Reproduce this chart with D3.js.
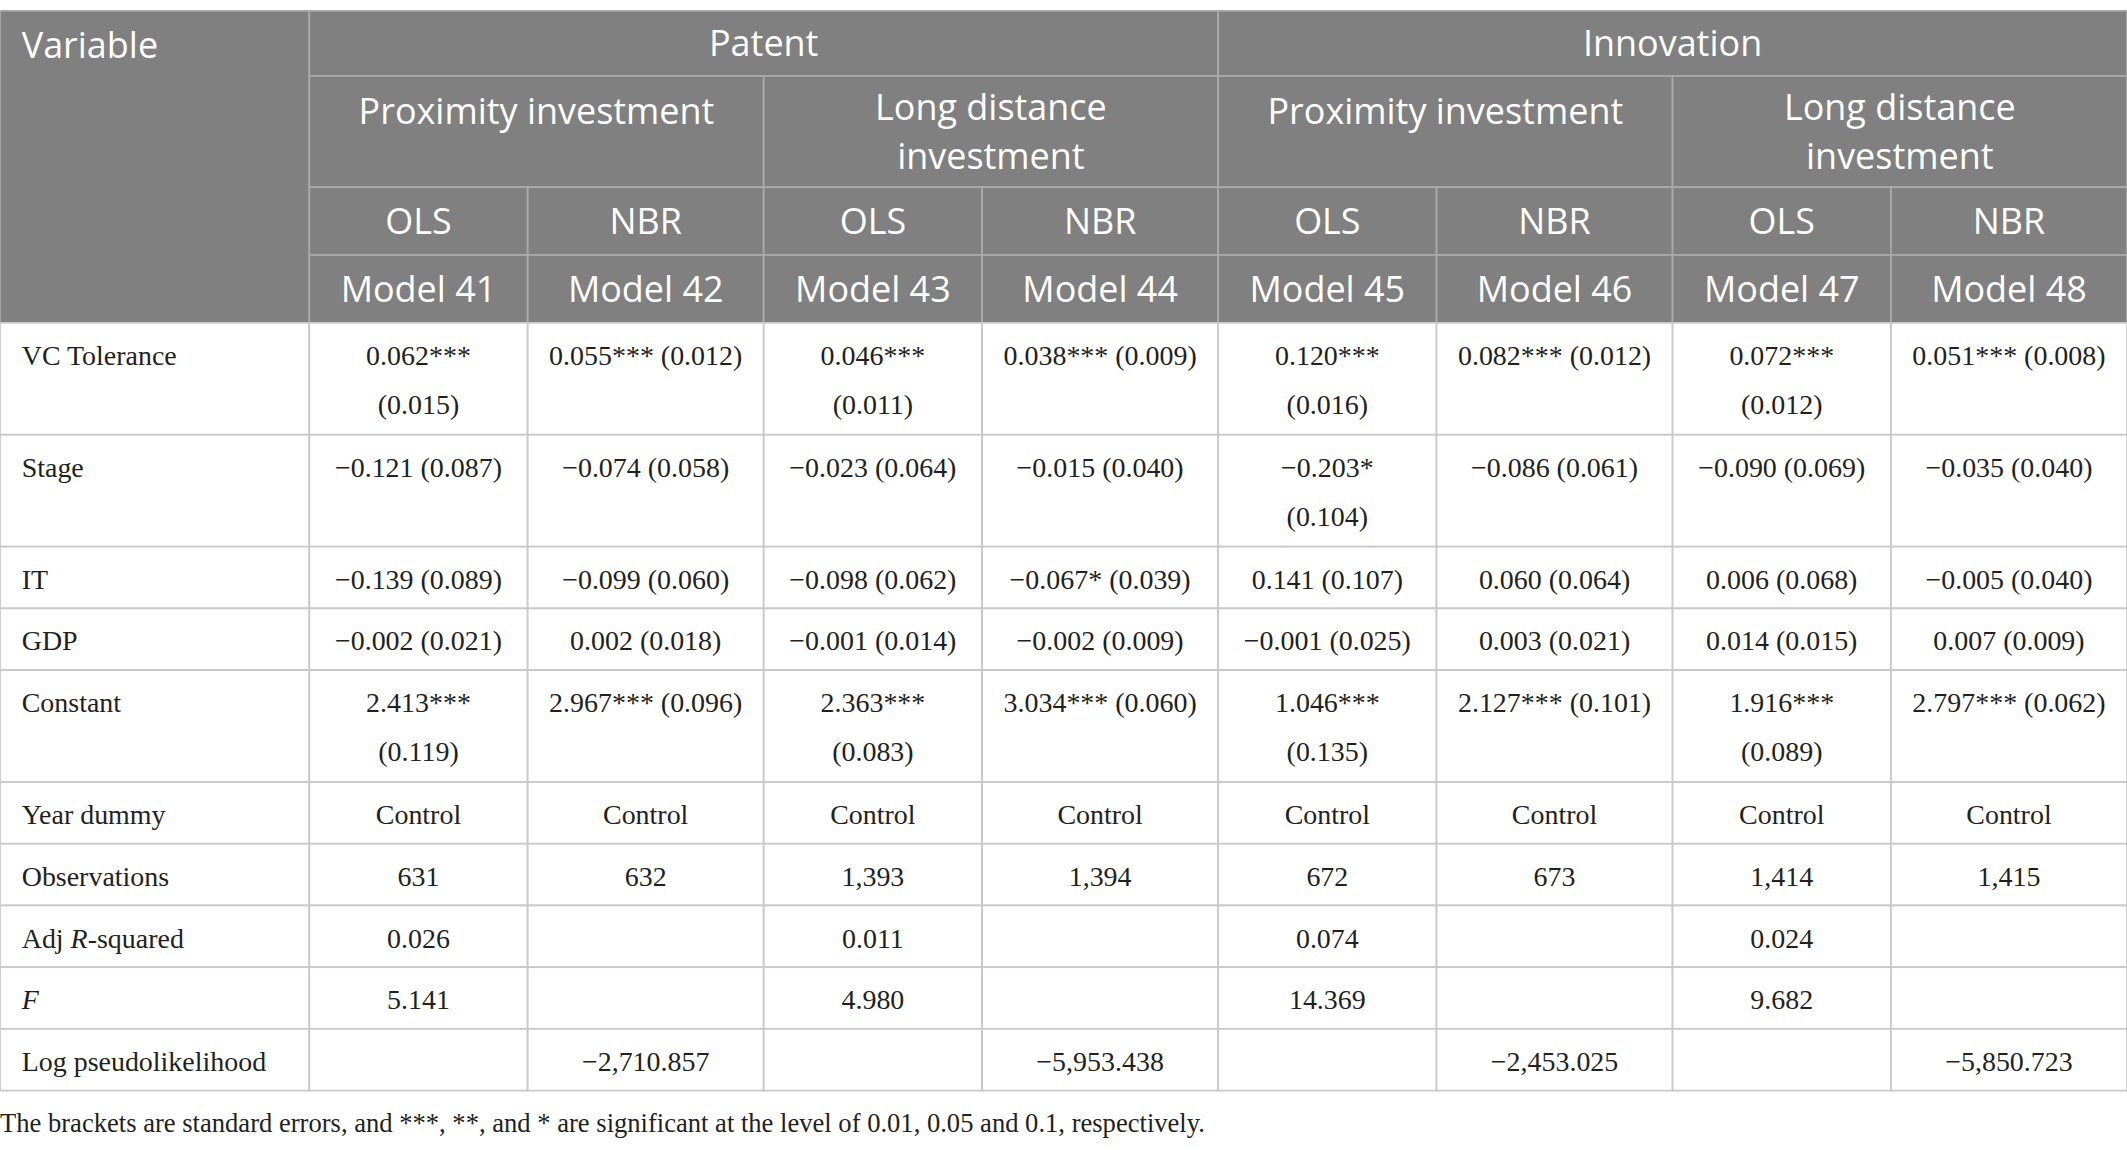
<!DOCTYPE html>
<html>
<head>
<meta charset="utf-8">
<script src="https://cdn.jsdelivr.net/npm/d3@7"></script>
<style>
  html, body { margin: 0; padding: 0; background: #ffffff; }
  svg { display: block; }
</style>
</head>
<body>
<svg id="chart"></svg>
<script>
// ---------------- DATA ----------------
const outcomes = ["Patent", "Innovation"];
const investTypes = ["Proximity investment", "Long distance investment"];
const methods = ["OLS", "NBR"];
const models = ["Model 41", "Model 42", "Model 43", "Model 44", "Model 45", "Model 46", "Model 47", "Model 48"];
const variables = ["VC Tolerance", "Stage", "IT", "GDP", "Constant", "Year dummy", "Observations", "Adj R-squared", "F", "Log pseudolikelihood"];

const vcTolerance = ["0.062*** (0.015)", "0.055*** (0.012)", "0.046*** (0.011)", "0.038*** (0.009)", "0.120*** (0.016)", "0.082*** (0.012)", "0.072*** (0.012)", "0.051*** (0.008)"];
const stage = ["−0.121 (0.087)", "−0.074 (0.058)", "−0.023 (0.064)", "−0.015 (0.040)", "−0.203* (0.104)", "−0.086 (0.061)", "−0.090 (0.069)", "−0.035 (0.040)"];
const itValues = ["−0.139 (0.089)", "−0.099 (0.060)", "−0.098 (0.062)", "−0.067* (0.039)", "0.141 (0.107)", "0.060 (0.064)", "0.006 (0.068)", "−0.005 (0.040)"];
const gdp = ["−0.002 (0.021)", "0.002 (0.018)", "−0.001 (0.014)", "−0.002 (0.009)", "−0.001 (0.025)", "0.003 (0.021)", "0.014 (0.015)", "0.007 (0.009)"];
const constant = ["2.413*** (0.119)", "2.967*** (0.096)", "2.363*** (0.083)", "3.034*** (0.060)", "1.046*** (0.135)", "2.127*** (0.101)", "1.916*** (0.089)", "2.797*** (0.062)"];
const yearDummy = ["Control", "Control", "Control", "Control", "Control", "Control", "Control", "Control"];
const observations = ["631", "632", "1,393", "1,394", "672", "673", "1,414", "1,415"];
const adjRSquared = ["0.026", "", "0.011", "", "0.074", "", "0.024", ""];
const fStat = ["5.141", "", "4.980", "", "14.369", "", "9.682", ""];
const logPseudolikelihood = ["", "−2,710.857", "", "−5,953.438", "", "−2,453.025", "", "−5,850.723"];

const footnote = "The brackets are standard errors, and ***, **, and * are significant at the level of 0.01, 0.05 and 0.1, respectively.";

// ---------------- LAYOUT ----------------
const W = 2127, H = 1150;
const VW = 1568, VH = VW * H / W;
const colWidths = [228, 161, 174, 161, 174, 161, 174, 161, 174];
const headerHeights = [48, 82, 50, 50];
const topY = 8;
const headerFill = "#7f807f";
const headerLine = "#a9aaa9";
const bodyLine = "#c9c9c9";
const textColor = "#231f20";
const headFont = "'Open Sans', 'Noto Sans', sans-serif";
const bodyFont = "'Liberation Serif', 'DejaVu Serif', serif";
const headSize = 26.5;
const bodySize = 20.6;
const footSize = 19.6;
const headLineGap = 36.5;

const bodyValues = [vcTolerance, stage, itValues, gdp, constant, yearDummy, observations, adjRSquared, fStat, logPseudolikelihood];

const svg = d3.select("#chart")
  .attr("width", W).attr("height", H)
  .attr("viewBox", `0 0 ${VW} ${VH}`);

// column edges via scale
const colEdges = Array.from(d3.cumsum([0].concat(colWidths)));
const xCol = d3.scaleOrdinal().domain(d3.range(colEdges.length)).range(colEdges);

// header row edges
const headEdgeArr = [topY].concat(Array.from(d3.cumsum(headerHeights), v => v + topY));
const yHead = d3.scaleOrdinal().domain(d3.range(headEdgeArr.length)).range(headEdgeArr);

// body cells: split lines (narrow OLS columns wrap starred coefficients)
function cellLines(text, colIdx) {
  const isOLS = methods[colIdx % 2] === "OLS";
  const i = text.indexOf(" (");
  if (isOLS && text.includes("*") && i > 0) return [text.slice(0, i), text.slice(i + 1)];
  return text === "" ? [] : [text];
}
const bodyRows = variables.map((v, r) => {
  const cells = bodyValues[r].map((t, c) => ({ lines: cellLines(t, c), col: c }));
  const nLines = Math.max(1, d3.max(cells, d => d.lines.length));
  return { label: v, cells, nLines };
});
const rowH = n => 45.5 + (n - 1) * 37;
const bodyEdges = [headEdgeArr[4]].concat(Array.from(d3.cumsum(bodyRows.map(d => rowH(d.nLines))), v => v + headEdgeArr[4]));
const yBody = d3.scaleOrdinal().domain(d3.range(bodyEdges.length)).range(bodyEdges);

// ---------- header cells ----------
const headCells = [];
headCells.push({ c0: 0, c1: 1, r0: 0, r1: 4, lines: ["Variable"], align: "left" });
outcomes.forEach((o, i) => headCells.push({ c0: 1 + 4 * i, c1: 5 + 4 * i, r0: 0, r1: 1, lines: [o] }));
outcomes.forEach((o, i) => investTypes.forEach((t, j) =>
  headCells.push({ c0: 1 + 4 * i + 2 * j, c1: 3 + 4 * i + 2 * j, r0: 1, r1: 2, text: t })));
models.forEach((m, k) => headCells.push({ c0: 1 + k, c1: 2 + k, r0: 2, r1: 3, lines: [methods[k % 2]] }));
models.forEach((m, k) => headCells.push({ c0: 1 + k, c1: 2 + k, r0: 3, r1: 4, lines: [m] }));

const gHead = svg.append("g");
gHead.selectAll("rect").data(headCells).join("rect")
  .attr("x", d => xCol(d.c0)).attr("y", d => yHead(d.r0))
  .attr("width", d => xCol(d.c1) - xCol(d.c0)).attr("height", d => yHead(d.r1) - yHead(d.r0))
  .attr("fill", headerFill).attr("stroke", headerLine).attr("stroke-width", 1.3);

// measuring helper for header wrapping
const measure = svg.append("text").attr("font-family", headFont).attr("font-size", headSize).attr("visibility", "hidden");
function wrapWords(text, avail) {
  const words = text.split(" ");
  const lines = [];
  let cur = "";
  words.forEach(w => {
    const test = cur ? cur + " " + w : w;
    measure.text(test);
    if (cur && measure.node().getComputedTextLength() > avail) { lines.push(cur); cur = w; }
    else cur = test;
  });
  if (cur) lines.push(cur);
  return lines;
}
headCells.forEach(d => {
  if (!d.lines) d.lines = wrapWords(d.text, xCol(d.c1) - xCol(d.c0) - 28);
});
measure.remove();

const headText = gHead.selectAll("text.h").data(headCells).join("text")
  .attr("class", "h")
  .attr("font-family", headFont).attr("font-size", headSize)
  .attr("fill", "#ffffff")
  .attr("text-anchor", d => d.align === "left" ? "start" : "middle");
headText.each(function (d) {
  const x = d.align === "left" ? xCol(d.c0) + 16 : (xCol(d.c0) + xCol(d.c1)) / 2;
  const multi = d.lines.length > 1;
  const y0 = d.r1 - d.r0 > 1 ? yHead(d.r0) + 25
    : d.r0 === 1 ? (multi ? (yHead(1) + yHead(2)) / 2 - headLineGap / 2 : yHead(d.r0) + 26)
    : (yHead(d.r0) + yHead(d.r1)) / 2;
  d3.select(this).selectAll("tspan").data(d.lines).join("tspan")
    .attr("x", x).attr("y", (l, i) => y0 + i * headLineGap).attr("dy", "0.36em").text(l => l);
});

// ---------- body ----------
const gBody = svg.append("g");
bodyRows.forEach((row, r) => {
  const y0 = yBody(r), y1 = yBody(r + 1);
  const cellsAll = [{ col: -1, lines: [row.label] }].concat(row.cells);
  const g = gBody.append("g");
  g.selectAll("rect").data(cellsAll).join("rect")
    .attr("x", d => xCol(d.col + 1)).attr("y", y0)
    .attr("width", d => xCol(d.col + 2) - xCol(d.col + 1)).attr("height", y1 - y0)
    .attr("fill", "#ffffff").attr("stroke", bodyLine).attr("stroke-width", 1.3);
  const t = g.selectAll("text").data(cellsAll).join("text")
    .attr("font-family", bodyFont).attr("font-size", bodySize).attr("fill", textColor)
    .attr("text-anchor", d => d.col < 0 ? "start" : "middle");
  t.each(function (d) {
    const x = d.col < 0 ? 16 : (xCol(d.col + 1) + xCol(d.col + 2)) / 2;
    const sel = d3.select(this).selectAll("tspan").data(d.lines).join("tspan")
      .attr("x", x).attr("y", (l, i) => y0 + 24 + i * 36).attr("dy", "0.34em");
    sel.each(function (l) {
      const ts = d3.select(this);
      if (d.col < 0 && l === "Adj R-squared") {
        ts.text("Adj ");
        ts.append("tspan").attr("font-style", "italic").text("R");
        ts.append("tspan").text("-squared");
      } else if (d.col < 0 && l === "F") {
        ts.attr("font-style", "italic").text(l);
      } else ts.text(l);
    });
  });
});

// footnote
svg.append("text")
  .attr("x", 0).attr("y", yBody(bodyRows.length) + 24).attr("dy", "0.34em")
  .attr("font-family", bodyFont).attr("font-size", footSize).attr("fill", textColor)
  .text(footnote);
</script>
</body>
</html>
